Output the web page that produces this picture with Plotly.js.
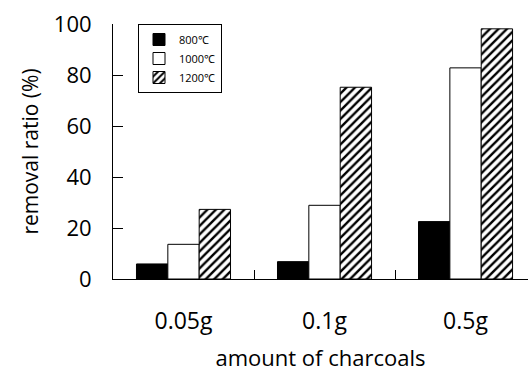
<!DOCTYPE html>
<html>
<head>
<meta charset="utf-8">
<script src="https://cdn.plot.ly/plotly-3.0.1.min.js"></script>
<style>html,body{margin:0;padding:0;background:#fff;}#chart{width:528px;height:372px;}</style>
</head>
<body>
<div id="chart"></div>
<script>
const categories = ["0.05g", "0.1g", "0.5g"];
const seriesNames = ["800℃", "1000℃", "1200℃"];
const values800 = [5.9, 6.8, 22.5];
const values1000 = [13.6, 28.9, 82.8];
const values1200 = [27.3, 75.2, 98.1];
const yTicks = [0, 20, 40, 60, 80, 100];

const font = "Open Sans, sans-serif";
const traces = [
  {type: "bar", name: seriesNames[0], x: categories, y: values800,
   marker: {color: "#000000", line: {color: "#000000", width: 1}}},
  {type: "bar", name: seriesNames[1], x: categories, y: values1000,
   marker: {color: "#ffffff", line: {color: "#000000", width: 1}}},
  {type: "bar", name: seriesNames[2], x: categories, y: values1200,
   marker: {color: "#ffffff", line: {color: "#000000", width: 1},
            pattern: {shape: "/", size: 6, solidity: 0.4, fgcolor: "#000000", bgcolor: "#ffffff", fillmode: "replace"}}}
];

const layout = {
  width: 528, height: 372,
  margin: {l: 113, r: 0, t: 24, b: 93},
  paper_bgcolor: "#ffffff", plot_bgcolor: "#ffffff",
  barmode: "group", bargap: 0.333, bargroupgap: 0,
  font: {family: font, color: "#000000"},
  showlegend: true,
  legend: {x: (138 - 113) / 415, y: 1.0, xanchor: "left", yanchor: "top",
           traceorder: "normal",
           font: {family: font, size: 11, color: "#000"},
           bordercolor: "#000", borderwidth: 1, bgcolor: "#fff",
           itemwidth: 30, tracegroupgap: 0},
  xaxis: {
    type: "category", range: [-0.5, 2.443],
    showline: true, linecolor: "#000", linewidth: 1,
    showgrid: false, zeroline: false, automargin: false,
    ticks: "inside", ticklen: 9, tickcolor: "#000", tickson: "boundaries",
    tickfont: {family: font, size: 23, color: "#000"},
    ticklabelstandoff: 21,
    title: {text: "amount of charcoals", font: {family: font, size: 22, color: "#000"}, standoff: 19}
  },
  yaxis: {
    range: [0, 100], tickvals: yTicks,
    showline: true, linecolor: "#000", linewidth: 1,
    showgrid: false, zeroline: false, automargin: false,
    ticks: "inside", ticklen: 10, tickcolor: "#000",
    tickfont: {family: font, size: 22, color: "#000"},
    ticklabelstandoff: 16,
    title: {text: "removal ratio (%)", font: {family: font, size: 21, color: "#000"}, standoff: 9}
  }
};

Plotly.newPlot("chart", traces, layout, {displayModeBar: false, staticPlot: true});
</script>
</body>
</html>
